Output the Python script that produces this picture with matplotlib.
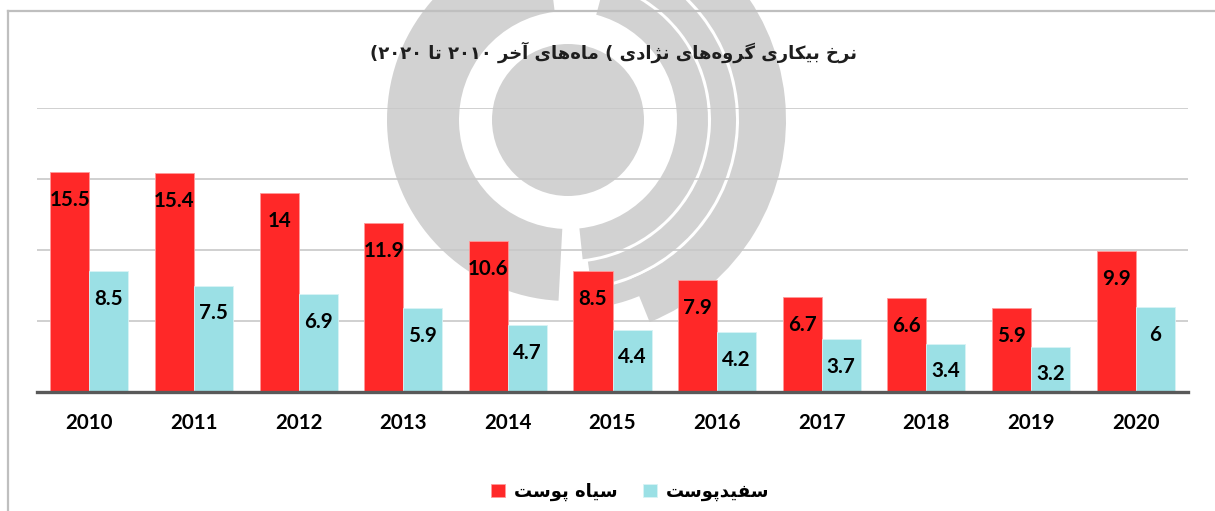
import re
import numpy as np
import matplotlib
matplotlib.use('Agg')
import matplotlib.pyplot as plt
from matplotlib.patches import Wedge, Circle
from matplotlib.lines import Line2D

# داده‌ها
years = ['2010', '2011', '2012', '2013', '2014', '2015', '2016', '2017', '2018', '2019', '2020']
black_rate = [15.5, 15.4, 14, 11.9, 10.6, 8.5, 7.9, 6.7, 6.6, 5.9, 9.9]
white_rate = [8.5, 7.5, 6.9, 5.9, 4.7, 4.4, 4.2, 3.7, 3.4, 3.2, 6]

title_fa = 'نرخ بیکاری گروه\u200cهای نژادی ) ماه\u200cهای آخر ۲۰۱۰ تا ۲۰۲۰)'
label_black = 'سیاه پوست'
label_white = 'سفیدپوست'

RED = '#ff2828'
CYAN = '#9be0e5'

# matplotlib حروف فارسی را به هم نمی‌چسباند، پس شکل حروف را خودمان می‌سازیم
FORMS = {
    'ا': ('\uFE8D', '\uFE8E'),
    'آ': ('\uFE81', '\uFE82'),
    'ب': ('\uFE8F', '\uFE90', '\uFE91', '\uFE92'),
    'پ': ('\uFB56', '\uFB57', '\uFB58', '\uFB59'),
    'ت': ('\uFE95', '\uFE96', '\uFE97', '\uFE98'),
    'خ': ('\uFEA5', '\uFEA6', '\uFEA7', '\uFEA8'),
    'د': ('\uFEA9', '\uFEAA'),
    'ر': ('\uFEAD', '\uFEAE'),
    'ژ': ('\uFB8A', '\uFB8B'),
    'س': ('\uFEB1', '\uFEB2', '\uFEB3', '\uFEB4'),
    'ف': ('\uFED1', '\uFED2', '\uFED3', '\uFED4'),
    'ک': ('\uFB8E', '\uFB8F', '\uFB90', '\uFB91'),
    'گ': ('\uFB92', '\uFB93', '\uFB94', '\uFB95'),
    'م': ('\uFEE1', '\uFEE2', '\uFEE3', '\uFEE4'),
    'ن': ('\uFEE5', '\uFEE6', '\uFEE7', '\uFEE8'),
    'ه': ('\uFEE9', '\uFEEA', '\uFEEB', '\uFEEC'),
    'و': ('\uFEED', '\uFEEE'),
    'ی': ('\uFBFC', '\uFBFD', '\uFBFE', '\uFBFF'),
}


def fa(text):
    out = []
    for i, ch in enumerate(text):
        if ch not in FORMS:
            if ch != '\u200c':
                out.append(ch)
            continue
        prev = text[i - 1] if i > 0 else ''
        nxt = text[i + 1] if i + 1 < len(text) else ''
        join_prev = prev in FORMS and len(FORMS[prev]) == 4
        join_next = len(FORMS[ch]) == 4 and nxt in FORMS
        f = FORMS[ch]
        if join_prev and join_next:
            out.append(f[3])
        elif join_prev:
            out.append(f[1])
        elif join_next:
            out.append(f[2])
        else:
            out.append(f[0])
    vis = ''.join(out)[::-1]
    vis = re.sub(r'[0-9\u06F0-\u06F9]+', lambda m: m.group()[::-1], vis)
    mirror = {'(': ')', ')': '('}
    return ''.join(mirror.get(c, c) for c in vis)


W, H = 1215, 511
fig = plt.figure(figsize=(W / 100, H / 100), dpi=100)
fig.patch.set_facecolor('white')

# واترمارک خاکستری پشت نمودار
bg = fig.add_axes([0, 0, 1, 1], zorder=0)
bg.set_xlim(0, W)
bg.set_ylim(0, H)
bg.axis('off')
wm = '#d2d2d2'
cx, cy = 568, H - 120
bg.add_patch(Circle((cx, cy), 76, color=wm, lw=0))
bg.add_patch(Wedge((cx, cy), 181, 97, 267, width=72, color=wm, lw=0))
bg.add_patch(Wedge((cx, cy), 140, -84, 75, width=31, color=wm, lw=0))
bg.add_patch(Wedge((cx, cy), 168, -82, 78, width=25, color=wm, lw=0))
bg.add_patch(Wedge((cx, cy), 218, -68, 80, width=47, color=wm, lw=0))
bg.add_patch(Wedge((cx, cy), 190, -84, -60, width=19, color=wm, lw=0))

# قاب دور نمودار
fig.add_artist(Line2D([8 / W, 8 / W], [0, 1 - 11 / H], color='#bfbfbf', lw=1.6))
fig.add_artist(Line2D([8 / W, 1], [1 - 11 / H, 1 - 11 / H], color='#bfbfbf', lw=1.6))

ax = fig.add_axes([37 / W, 1 - 392 / H, (1188 - 37) / W, (392 - 108) / H], zorder=1)
ax.patch.set_alpha(0)

x = np.arange(len(years))
w = 0.373
b1 = ax.bar(x - w / 2, black_rate, w, color=RED, edgecolor='#ff9a9a', lw=0.6, zorder=3)
b2 = ax.bar(x + w / 2, white_rate, w, color=CYAN, edgecolor='#d8f3f5', lw=0.6, zorder=3)

for bars, vals in [(b1, black_rate), (b2, white_rate)]:
    for r, v in zip(bars, vals):
        ax.annotate(f'{v:g}', (r.get_x() + r.get_width() / 2, v), xytext=(0, -20),
                    textcoords='offset points', ha='center', va='center',
                    fontsize=14.8, fontweight='bold', family='Lato', color='black', zorder=4)

ax.set_xlim(-0.5, len(years) - 0.5)
ax.set_ylim(0, 20)
ax.set_yticks([5, 10, 15, 20])
ax.yaxis.grid(True, color='#c8c8c8', lw=1.2, zorder=0)
ax.tick_params(axis='y', length=0, labelleft=False)
ax.set_xticks(x)
ax.set_xticklabels(years, fontsize=14.8, fontweight='bold', family='Lato')
ax.tick_params(axis='x', length=0, pad=15)
for s in ['left', 'right', 'top']:
    ax.spines[s].set_visible(False)
ax.spines['bottom'].set_color('#595959')
ax.spines['bottom'].set_linewidth(2.4)
ax.spines['bottom'].set_zorder(5)

fig.text(614 / W, 1 - 52 / H, fa(title_fa), ha='center', va='center',
         fontsize=13, fontweight='bold', family='DejaVu Sans', color='#1e1e1e')

fig.legend([b1, b2], [fa(label_black), fa(label_white)], loc='center',
           bbox_to_anchor=(630 / W, 1 - 492 / H), ncol=2, frameon=False,
           handlelength=0.78, handleheight=0.78, handletextpad=0.5, columnspacing=1.4,
           prop={'family': 'DejaVu Sans', 'weight': 'bold', 'size': 13})

fig.savefig('out.png', dpi=100)
